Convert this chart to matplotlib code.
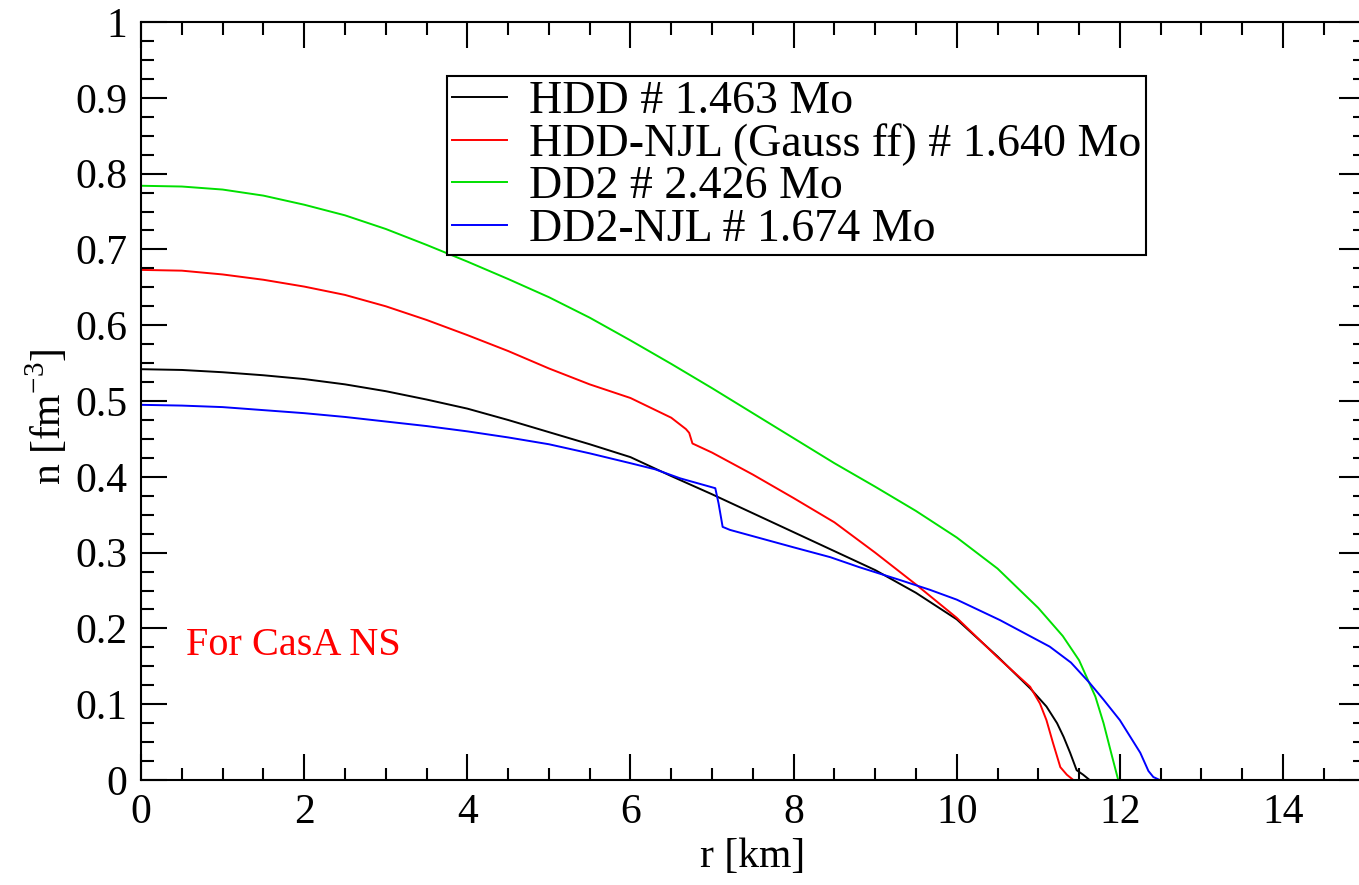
import matplotlib
matplotlib.use("Agg")
import matplotlib.pyplot as plt
from matplotlib.ticker import MultipleLocator, FuncFormatter

plt.rcParams['font.family'] = 'serif'
plt.rcParams['font.serif'] = ['Liberation Serif', 'DejaVu Serif']
plt.rcParams['mathtext.fontset'] = 'custom'
plt.rcParams['mathtext.rm'] = 'Liberation Serif'

# ── data ───────────────────────────────────────────────────
r_hdd = [0.0, 0.5, 1.0, 1.5, 2.0, 2.5, 3.0, 3.5, 4.0, 4.5, 5.0, 5.5, 6.0, 6.5, 7.0, 7.5, 8.0,
         8.5, 9.0, 9.5, 10.0, 10.5, 10.9, 11.1, 11.23, 11.31, 11.39, 11.47, 11.55, 11.63]
n_hdd = [0.542, 0.541, 0.538, 0.534, 0.529, 0.522, 0.513, 0.502, 0.490, 0.475, 0.459, 0.443, 0.426,
         0.401, 0.377, 0.352, 0.327, 0.302, 0.277, 0.247, 0.212, 0.163, 0.121, 0.097, 0.075, 0.057,
         0.036, 0.013, 0.007, 0.0]

r_hnjl = [0.0, 0.5, 1.0, 1.5, 2.0, 2.5, 3.0, 3.5, 4.0, 4.5, 5.0, 5.5, 6.0, 6.5, 6.68, 6.72, 6.76,
          7.0, 7.5, 8.0, 8.5, 9.0, 9.5, 10.0, 10.5, 10.9, 11.02, 11.1, 11.18, 11.27, 11.35, 11.43]
n_hnjl = [0.673, 0.672, 0.667, 0.660, 0.651, 0.640, 0.625, 0.607, 0.587, 0.566, 0.543, 0.522, 0.504,
          0.478, 0.463, 0.458, 0.444, 0.432, 0.403, 0.372, 0.340, 0.300, 0.258, 0.214, 0.162, 0.123,
          0.101, 0.079, 0.049, 0.017, 0.007, 0.0]

r_dd2 = [0.0, 0.5, 1.0, 1.5, 2.0, 2.5, 3.0, 3.5, 4.0, 4.5, 5.0, 5.5, 6.0, 6.5, 7.0, 7.5, 8.0,
         8.5, 9.0, 9.5, 10.0, 10.5, 11.0, 11.3, 11.5, 11.7, 11.8, 11.9, 11.98]
n_dd2 = [0.784, 0.783, 0.779, 0.771, 0.759, 0.745, 0.727, 0.706, 0.684, 0.661, 0.637, 0.610, 0.580,
         0.549, 0.517, 0.484, 0.451, 0.418, 0.387, 0.355, 0.320, 0.279, 0.227, 0.190, 0.158, 0.110,
         0.075, 0.033, 0.0]

r_dnjl = [0.0, 0.5, 1.0, 1.5, 2.0, 2.5, 3.0, 3.5, 4.0, 4.5, 5.0, 5.5, 6.0, 6.3, 6.61, 7.04, 7.08,
          7.13, 7.22, 8.0, 8.45, 8.8, 9.3, 9.67, 10.0, 10.53, 11.14, 11.4, 11.63, 11.8, 12.0, 12.25,
          12.35, 12.41, 12.49]
n_dnjl = [0.495, 0.494, 0.492, 0.488, 0.484, 0.479, 0.473, 0.467, 0.460, 0.452, 0.443, 0.431, 0.418,
          0.410, 0.398, 0.385, 0.365, 0.334, 0.330, 0.307, 0.294, 0.281, 0.264, 0.251, 0.238, 0.211,
          0.176, 0.155, 0.128, 0.106, 0.079, 0.036, 0.012, 0.004, 0.0]

labels = ["HDD # 1.463 Mo", "HDD-NJL (Gauss ff) # 1.640 Mo", "DD2 # 2.426 Mo", "DD2-NJL # 1.674 Mo"]
colors = ["black", "#ff0000", "#00e000", "#0000ff"]

fig = plt.figure(figsize=(13.59, 8.85), dpi=100)
ax = fig.add_axes([0.1038, 0.1186, 0.9003, 0.8565])

for r, n, lab, c in zip([r_hdd, r_hnjl, r_dd2, r_dnjl], [n_hdd, n_hnjl, n_dd2, n_dnjl], labels, colors):
    ax.plot(r, n, color=c, lw=1.4, label=lab)

ax.set_xlim(0, 15)
ax.set_ylim(0, 1)
ax.xaxis.set_major_locator(MultipleLocator(2))
ax.xaxis.set_minor_locator(MultipleLocator(0.5))
ax.yaxis.set_major_locator(MultipleLocator(0.1))
ax.yaxis.set_minor_locator(MultipleLocator(0.025))
ax.yaxis.set_major_formatter(FuncFormatter(lambda v, p: f"{v:g}"))

ax.tick_params(which='both', direction='in', top=True, right=True, width=1.5, labelsize=30)
ax.tick_params(which='major', length=19, pad=10)
ax.tick_params(which='minor', length=9)
for s in ax.spines.values():
    s.set_linewidth(1.5)

ax.set_xlabel("r [km]", fontsize=30, labelpad=4)
ax.set_ylabel(r"n [fm$^{\mathrm{-3}}$]", fontsize=30, labelpad=0)
ax.yaxis.set_label_coords(-0.058, 0.48)

ax.text(0.55, 0.165, "For CasA NS", color="#ff0000", fontsize=29)

leg = ax.legend(loc='upper left', bbox_to_anchor=(0.25, 0.929), fontsize=33,
                handlelength=1.2, handletextpad=0.5, labelspacing=0.0,
                borderpad=0.1, borderaxespad=0, fancybox=False, framealpha=1,
                edgecolor='black')
leg.get_frame().set_linewidth(1.5)

fig.savefig("out.png", dpi=100)
